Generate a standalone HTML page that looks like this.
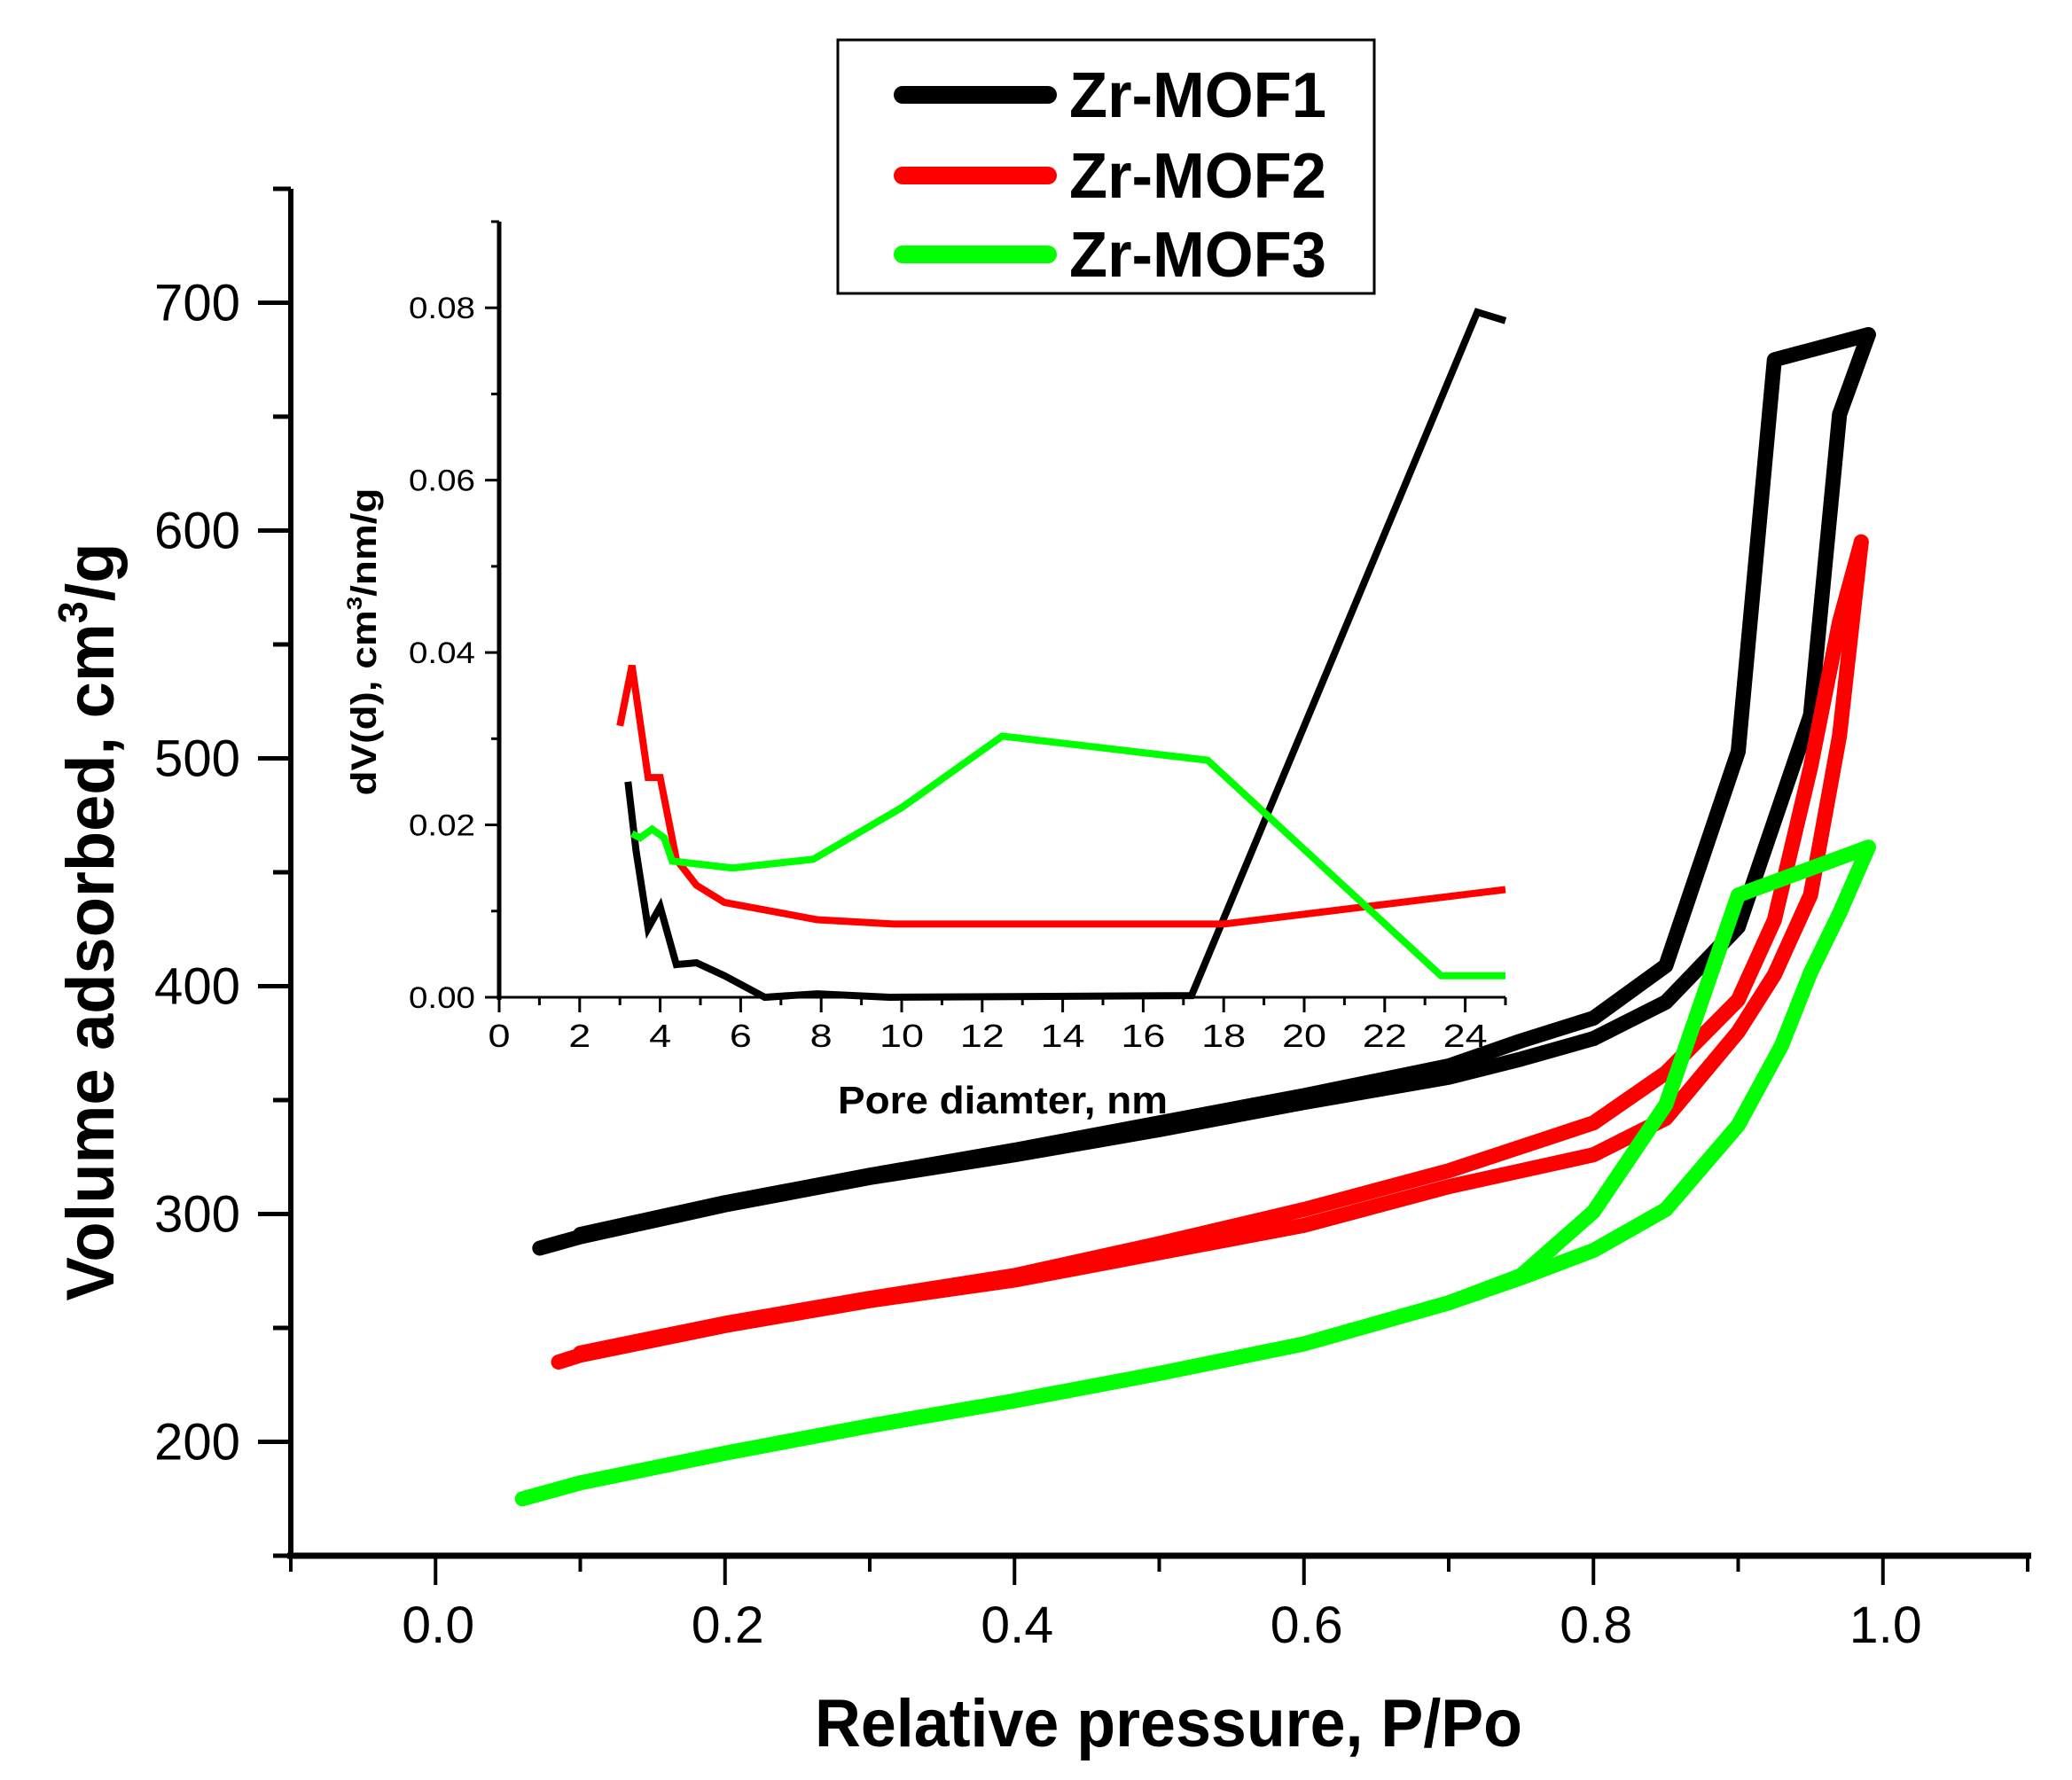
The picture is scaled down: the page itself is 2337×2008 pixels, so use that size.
<!DOCTYPE html>
<html><head><meta charset="utf-8"><style>
html,body{margin:0;padding:0;background:#fff;}
svg{display:block;font-family:"Liberation Sans",Arial,sans-serif;}
</style></head><body>
<svg id="chart" width="2337" height="2008" viewBox="0 0 2337 2008" xmlns="http://www.w3.org/2000/svg">
<rect width="2337" height="2008" fill="#fff"/>
<g id="main-axes"></g>
<g id="main-series"></g>
<g id="inset"></g>
<g id="legend">
<rect x="945" y="45" width="605" height="286" fill="#fff" stroke="#000" stroke-width="3"/>
<line x1="1018" y1="107" x2="1182" y2="107" stroke="#000" stroke-width="20" stroke-linecap="round"/>
<line x1="1018" y1="198" x2="1182" y2="198" stroke="#f00" stroke-width="20" stroke-linecap="round"/>
<line x1="1018" y1="287" x2="1182" y2="287" stroke="#0f0" stroke-width="20" stroke-linecap="round"/>
<text x="1206" y="132" font-size="72" font-weight="bold" textLength="290" lengthAdjust="spacingAndGlyphs">Zr-MOF1</text>
<text x="1206" y="223" font-size="72" font-weight="bold" textLength="290" lengthAdjust="spacingAndGlyphs">Zr-MOF2</text>
<text x="1206" y="312" font-size="72" font-weight="bold" textLength="290" lengthAdjust="spacingAndGlyphs">Zr-MOF3</text>
</g>
</svg>
<script>
// ---- main chart data ----
const xTicks = [0.0, 0.2, 0.4, 0.6, 0.8, 1.0];
const xTickLabels = ["0.0","0.2","0.4","0.6","0.8","1.0"];
const yTicks = [200, 300, 400, 500, 600, 700];
const yTickLabels = ["200","300","400","500","600","700"];
const mof1AdsP = [0.072,0.1,0.2,0.3,0.4,0.5,0.6,0.7,0.75,0.8,0.85,0.9,0.95,0.97,0.99];
const mof1AdsV = [285,290,304,316,326,337,349,360,368,377,393,426,519,651,686];
const mof1DesP = [0.99,0.925,0.9,0.85,0.8,0.75,0.7,0.6,0.5,0.4,0.3,0.2,0.1];
const mof1DesV = [686,675,503,409,386,376,365,352,340,328,317,305,291];
const mof2AdsP = [0.085,0.1,0.2,0.3,0.4,0.5,0.6,0.7,0.8,0.85,0.9,0.925,0.95,0.97,0.985];
const mof2AdsV = [235,238,251,262,271,283,295,312,326,342,380,405,440,510,595];
const mof2DesP = [0.985,0.97,0.95,0.925,0.9,0.85,0.8,0.7,0.6,0.5,0.4,0.3,0.2,0.1];
const mof2DesV = [595,560,496,429,394,362,340,319,302,287,273,263,252,239];
const mof3AdsP = [0.06,0.1,0.2,0.3,0.4,0.5,0.6,0.7,0.75,0.8,0.85,0.9,0.93,0.95,0.97,0.99];
const mof3AdsV = [175,182,195,207,218,230,243,261,272,284,302,339,374,406,432,461];
const mof3DesP = [0.99,0.9,0.85,0.8,0.75,0.7,0.6];
const mof3DesV = [461,440,348,301,273,261,243];
// ---- inset data ----
const insetXTicks = [0,2,4,6,8,10,12,14,16,18,20,22,24];
const insetYTicks = [0,0.02,0.04,0.06,0.08];
const insetYTickLabels = ["0.00","0.02","0.04","0.06","0.08"];
const psd1D = [3.2,3.4,3.7,4.0,4.4,4.9,5.6,6.6,7.9,9.7,17.2,24.3,25];
const psd1V = [0.025,0.017,0.008,0.0105,0.0038,0.004,0.0025,0,0.0004,0,0.0002,0.0795,0.0785];
const psd2D = [3.0,3.3,3.7,4.0,4.4,4.9,5.6,7.9,9.8,18.0,25];
const psd2V = [0.0315,0.0385,0.0255,0.0255,0.016,0.013,0.011,0.009,0.0085,0.0085,0.0125];
const psd3D = [3.3,3.5,3.8,4.1,4.3,5.8,7.8,10.0,12.5,17.6,23.4,25];
const psd3V = [0.019,0.0185,0.0195,0.0185,0.0158,0.015,0.016,0.022,0.0303,0.0275,0.0025,0.0025];

const NS="http://www.w3.org/2000/svg";
function mk(tag,attrs,parent){const e=document.createElementNS(NS,tag);for(const k in attrs)e.setAttribute(k,attrs[k]);parent.appendChild(e);return e;}
const X0=328,X1=2287,Y0=1755,Y1=213;
const sx=p=>X0+(p+0.1)/1.2*(X1-X0);
const sy=v=>Y0-(v-150)/600*(Y0-Y1);
const ma=document.getElementById('main-axes');
let e;
e=mk('line',{x1:X0,y1:Y1,x2:X0,y2:Y0+3,stroke:'#000','stroke-width':6},ma);


e=mk('line',{x1:X0-4,y1:Y0,x2:X1+4,y2:Y0,stroke:'#000','stroke-width':7},ma);


for(let v=150;v<=750;v+=50){
  const major=(v%100===0);
  e=mk('line',{x1:major?291:308,y1:sy(v),x2:X0,y2:sy(v),stroke:'#000','stroke-width':5},ma);
  
  
}
yTicks.forEach((v,i)=>{
  e=mk('text',{x:271,y:sy(v)+20,'font-size':58,'text-anchor':'end',textLength:97,lengthAdjust:'spacingAndGlyphs'},ma);
  e.textContent=yTickLabels[i];
  
  
});
for(let k=-1;k<=11;k++){
  const p=k/10, major=(k%2===0);
  e=mk('line',{x1:sx(p),y1:Y0,x2:sx(p),y2:major?1788:1773,stroke:'#000','stroke-width':4},ma);
  
  
}
xTicks.forEach((p,i)=>{
  e=mk('text',{x:sx(p)+3,y:1853,'font-size':58,'text-anchor':'middle',textLength:82,lengthAdjust:'spacingAndGlyphs'},ma);
  e.textContent=xTickLabels[i];
  
  
});
e=mk('text',{x:1318,y:1970,'font-size':76,'font-weight':'bold','text-anchor':'middle',textLength:798,lengthAdjust:'spacingAndGlyphs'},ma);
e.textContent='Relative pressure, P/Po';


e=mk('text',{x:0,y:0,'font-size':76,'font-weight':'bold','text-anchor':'middle',textLength:855,lengthAdjust:'spacingAndGlyphs',transform:'translate(128,1040) rotate(-90)'},ma);
e.innerHTML='Volume adsorbed, cm<tspan dy="-30" font-size="46">3</tspan><tspan dy="30">/g</tspan>';



const ms=document.getElementById('main-series');
function series(P,V,color,name){
  const d=P.map((p,i)=>(i?'L':'M')+sx(p).toFixed(1)+' '+sy(V[i]).toFixed(1)).join(' ');
  const el=mk('path',{d:d,fill:'none',stroke:color,'stroke-width':17,'stroke-linejoin':'round','stroke-linecap':'round'},ms);
  
  
}
series(mof1AdsP,mof1AdsV,'#000','mof1-adsorption');
series(mof1DesP,mof1DesV,'#000','mof1-desorption');
series(mof2AdsP,mof2AdsV,'#f00','mof2-adsorption');
series(mof2DesP,mof2DesV,'#f00','mof2-desorption');
series(mof3AdsP,mof3AdsV,'#0f0','mof3-adsorption');
series(mof3DesP,mof3DesV,'#0f0','mof3-desorption');

const IX0=563,IX1=1698,IY0=1125,IY1=250;
const ix=d=>IX0+d/25*(IX1-IX0);
const iy=v=>IY0-v/0.09*(IY0-IY1);
const ins=document.getElementById('inset');
e=mk('line',{x1:IX0,y1:IY1,x2:IX0,y2:IY0+3,stroke:'#000','stroke-width':5},ins);


e=mk('line',{x1:IX0,y1:IY0,x2:IX1,y2:IY0,stroke:'#000','stroke-width':3},ins);


for(let k=0;k<=9;k++){
  const v=k*0.01;
  e=mk('line',{x1:k%2===0?547:554,y1:iy(v),x2:IX0,y2:iy(v),stroke:'#000','stroke-width':3},ins);
  
  
}
insetYTicks.forEach((v,i)=>{
  e=mk('text',{x:536,y:iy(v)+12,'font-size':34,'text-anchor':'end',textLength:75,lengthAdjust:'spacingAndGlyphs'},ins);
  e.textContent=insetYTickLabels[i];
  
  
});
for(let k=0;k<=25;k++){
  e=mk('line',{x1:ix(k),y1:IY0,x2:ix(k),y2:k%2===0?IY0+17:IY0+9,stroke:'#000','stroke-width':3},ins);
  
  
}
insetXTicks.forEach(d=>{
  const s=String(d);
  e=mk('text',{x:ix(d),y:1181,'font-size':36,'text-anchor':'middle',textLength:s.length*25,lengthAdjust:'spacingAndGlyphs'},ins);
  e.textContent=s;
  
  
});
e=mk('text',{x:1131,y:1256,'font-size':44,'font-weight':'bold','text-anchor':'middle',textLength:372,lengthAdjust:'spacingAndGlyphs'},ins);
e.textContent='Pore diamter, nm';


e=mk('text',{x:0,y:0,'font-size':40,'font-weight':'bold','text-anchor':'middle',textLength:347,lengthAdjust:'spacingAndGlyphs',transform:'translate(424,724) rotate(-90)'},ins);
e.innerHTML='dV(d), cm<tspan dy="-16" font-size="24">3</tspan><tspan dy="16">/nm/g</tspan>';


function iseries(D,V,color,name){
  const d=D.map((x,i)=>(i?'L':'M')+ix(x).toFixed(1)+' '+iy(V[i]).toFixed(1)).join(' ');
  const el=mk('path',{d:d,fill:'none',stroke:color,'stroke-width':8,'stroke-linejoin':'miter'},ins);
  
  
}
iseries(psd1D,psd1V,'#000','inset-mof1-psd');
iseries(psd2D,psd2V,'#f00','inset-mof2-psd');
iseries(psd3D,psd3V,'#0f0','inset-mof3-psd');
</script>
</body></html>
